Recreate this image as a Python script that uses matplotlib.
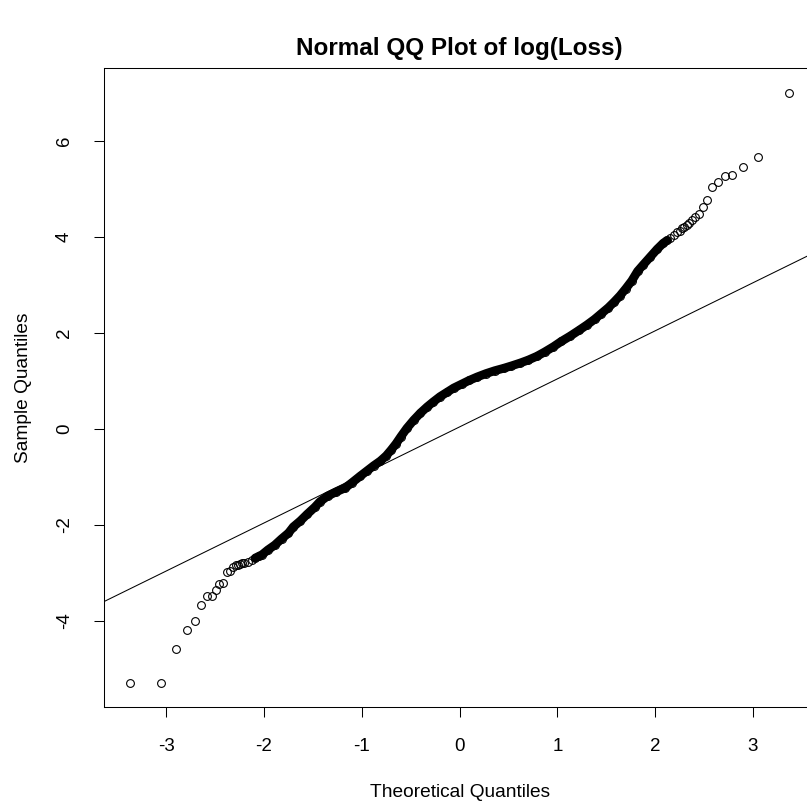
import numpy as np
import matplotlib.pyplot as plt

plt.rcParams['font.family'] = ['Liberation Sans', 'DejaVu Sans']
plt.rcParams['axes.unicode_minus'] = False

# lower tail, single circles
lo_x = [-3.37, -3.05, -2.90, -2.79, -2.71, -2.64, -2.58, -2.53, -2.49, -2.46,
        -2.42, -2.38, -2.35, -2.32, -2.29, -2.27, -2.25, -2.23]
lo_y = [-5.29, -5.29, -4.58, -4.18, -3.99, -3.67, -3.49, -3.47, -3.35, -3.24,
        -3.21, -2.99, -2.95, -2.88, -2.84, -2.83, -2.81, -2.80]

# dense middle part (centre of the black band)
mid_x = [-2.20, -2.16, -2.12, -2.09, -2.05, -2.02, -1.96, -1.89, -1.82, -1.75,
         -1.70, -1.63, -1.56, -1.48, -1.43, -1.35, -1.26, -1.17, -1.10, -1.02,
         -0.95, -0.88, -0.81, -0.75, -0.70, -0.65, -0.60, -0.54, -0.47, -0.40,
         -0.33, -0.27, -0.20, -0.13, -0.06, 0.02, 0.10, 0.18, 0.27, 0.36,
         0.45, 0.53, 0.62, 0.70, 0.79, 0.87, 0.96, 1.04, 1.13, 1.22,
         1.30, 1.38, 1.45, 1.52, 1.58, 1.64, 1.70, 1.76, 1.82, 1.88,
         1.95, 2.02, 2.08, 2.12, 2.15, 2.19, 2.22]
mid_y = [-2.80, -2.78, -2.73, -2.69, -2.65, -2.62, -2.52, -2.42, -2.29, -2.17,
         -2.04, -1.92, -1.78, -1.63, -1.52, -1.40, -1.31, -1.23, -1.12, -0.99,
         -0.88, -0.77, -0.67, -0.56, -0.44, -0.31, -0.16, 0.01, 0.18, 0.33,
         0.46, 0.56, 0.67, 0.76, 0.85, 0.93, 1.01, 1.08, 1.15, 1.21,
         1.26, 1.31, 1.37, 1.43, 1.51, 1.60, 1.71, 1.82, 1.93, 2.05,
         2.16, 2.28, 2.40, 2.52, 2.64, 2.77, 2.92, 3.08, 3.28, 3.42,
         3.58, 3.74, 3.86, 3.92, 3.97, 4.03, 4.09]

# upper tail
hi_x = [2.25, 2.27, 2.29, 2.32, 2.35, 2.38, 2.41, 2.45, 2.49, 2.53,
        2.58, 2.64, 2.71, 2.79, 2.90, 3.05, 3.37]
hi_y = [4.12, 4.17, 4.20, 4.25, 4.29, 4.34, 4.41, 4.48, 4.62, 4.77,
        5.03, 5.13, 5.27, 5.29, 5.44, 5.65, 6.99]

# reference line
line_a = 0.04
line_b = 1.0

fig = plt.figure(figsize=(8.07, 8.05), dpi=100)
ax = fig.add_axes([103.6 / 807, 98 / 805, 712 / 807, 639 / 805])

# band drawn as a thick stroke under the circles
ax.plot(mid_x[3:-3], mid_y[3:-3], color='black', lw=6.3,
        solid_capstyle='round', solid_joinstyle='round')
for xs, ys in [(lo_x, lo_y), (mid_x, mid_y), (hi_x, hi_y)]:
    ax.plot(xs, ys, 'o', ms=5.6, mfc='none', mec='black', mew=0.8)

ax.axline((0, line_a), slope=line_b, color='black', lw=0.75)

ax.set_xlim(-3.64, 3.64)
ax.set_ylim(-5.79, 7.51)
ax.set_xticks([-3, -2, -1, 0, 1, 2, 3])
ax.set_yticks([-4, -2, 0, 2, 4, 6])
for lab in ax.get_yticklabels():
    lab.set_rotation(90)
    lab.set_va('center')
ax.tick_params(direction='out', length=7, width=0.75, pad=15,
               labelsize=13.5, colors='black')
for s in ax.spines.values():
    s.set_linewidth(0.75)

ax.set_title('Normal QQ Plot of log(Loss)', fontsize=17.5,
             fontweight='bold', pad=9.5)
ax.set_xlabel('Theoretical Quantiles', fontsize=13.8, labelpad=21)
ax.set_ylabel('Sample Quantiles', fontsize=13.8, labelpad=17)

fig.savefig('out.png', dpi=100)
